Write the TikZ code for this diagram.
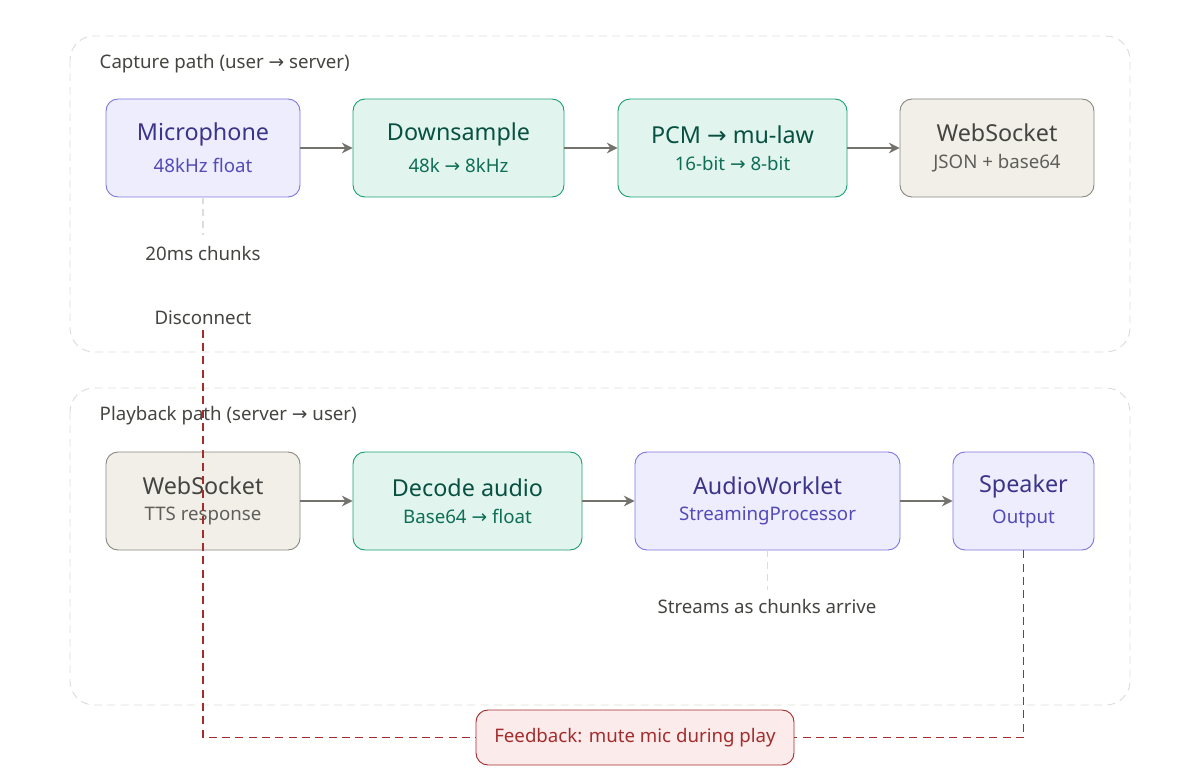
\documentclass[tikz,border=0pt]{standalone}
\usepackage{fontspec}
\setmainfont{Noto Sans}
\newfontfamily\arrowfont{DejaVu Sans}
\newcommand{\toarrow}{{\arrowfont →}}
\usetikzlibrary{arrows.meta}
\definecolor{purpfill}{HTML}{EEEDFE}
\definecolor{purpline}{HTML}{7F77DD}
\definecolor{purptxt}{HTML}{3C3489}
\definecolor{purpsub}{HTML}{534AB7}
\definecolor{grnfill}{HTML}{E1F5EE}
\definecolor{grnline}{HTML}{1D9E75}
\definecolor{grntxt}{HTML}{085041}
\definecolor{grnsub}{HTML}{0F6E56}
\definecolor{gryfill}{HTML}{F1EFE8}
\definecolor{gryline}{HTML}{8A8880}
\definecolor{grytxt}{HTML}{444441}
\definecolor{grysub}{HTML}{5F5E5A}
\definecolor{redfill}{HTML}{FCEBEB}
\definecolor{redline}{HTML}{A32D2D}
\definecolor{arrowgray}{HTML}{73726C}
\definecolor{groupline}{HTML}{DDDCD8}
\tikzset{
  stage/.style={rounded corners=9pt, draw, line width=0.7pt, align=center, inner sep=0pt},
  purp/.style={stage, fill=purpfill, draw=purpline},
  grn/.style={stage, fill=grnfill, draw=grnline},
  gry/.style={stage, fill=gryfill, draw=gryline},
  group/.style={draw=groupline, rounded corners=18pt, dash pattern=on 6pt off 4pt, line width=0.7pt},
  flow/.style={draw=arrowgray, line width=1.4pt, -{Stealth[length=8pt,width=8pt]}},
  note/.style={draw=groupline, dash pattern=on 5pt off 4pt, line width=0.8pt},
  fb/.style={draw=redline, dash pattern=on 6pt off 4pt, line width=1.2pt},
  lbl/.style={text=grytxt, font=\fontsize{14}{17}\selectfont}
}
\newcommand{\stagetext}[4]{{\color{#1}\fontsize{17.5}{21}\selectfont #3}\\[8pt]{\color{#2}\fontsize{14}{17}\selectfont #4}}
\begin{document}
\begin{tikzpicture}[x=0.75pt, y=-0.75pt]
    \useasboundingbox (0,0) rectangle (1200,784);

    % Groups
    \draw[group] (70,36) rectangle (1130,352);
    \draw[group] (70,388) rectangle (1130,705);
    \node[lbl, anchor=west] (capture) at (95,64) {Capture path (user \toarrow{} server)};
    \node[lbl, anchor=west] (playback) at (95,416) {Playback path (server \toarrow{} user)};

    % Capture row
    \node[purp, minimum width=194pt*0.75, minimum height=98pt*0.75] (mic) at (203,148)
        {\stagetext{purptxt}{purpsub}{Microphone}{48kHz float}};
    \node[grn, minimum width=211pt*0.75, minimum height=98pt*0.75] (down) at (458.5,148)
        {\stagetext{grntxt}{grnsub}{Downsample}{48k \toarrow{} 8kHz}};
    \node[grn, minimum width=229pt*0.75, minimum height=98pt*0.75] (pcm) at (732.5,148)
        {\stagetext{grntxt}{grnsub}{PCM \toarrow{} mu-law}{16-bit \toarrow{} 8-bit}};
    \node[gry, minimum width=194pt*0.75, minimum height=98pt*0.75] (wsout) at (997,148)
        {\stagetext{grytxt}{grysub}{WebSocket}{JSON + base64}};

    % Playback row
    \node[gry, minimum width=194pt*0.75, minimum height=98pt*0.75] (wsin) at (203,501)
        {\stagetext{grytxt}{grysub}{WebSocket}{TTS response}};
    \node[grn, minimum width=229pt*0.75, minimum height=98pt*0.75] (decode) at (467.5,501)
        {\stagetext{grntxt}{grnsub}{Decode audio}{Base64 \toarrow{} float}};
    \node[purp, minimum width=265pt*0.75, minimum height=98pt*0.75] (worklet) at (767.5,501)
        {\stagetext{purptxt}{purpsub}{AudioWorklet}{StreamingProcessor}};
    \node[purp, minimum width=141pt*0.75, minimum height=98pt*0.75] (speaker) at (1023.5,501)
        {\stagetext{purptxt}{purpsub}{Speaker}{Output}};

    % Notes
    \node[lbl] (chunks) at (203,254) {20ms chunks};
    \node[lbl] (disc) at (203,318) {Disconnect};
    \node[lbl] (streams) at (767,606) {Streams as chunks arrive};
    \node[rounded corners=9pt, draw=redline, fill=redfill, line width=0.7pt, text=redline,
          minimum width=318pt*0.75, minimum height=55pt*0.75, inner sep=0pt,
          font=\fontsize{14}{17}\selectfont] (feedback) at (635,737.5) {Feedback: mute mic during play};

    % Flow arrows
    \draw[flow] (mic) -- (down);
    \draw[flow] (down) -- (pcm);
    \draw[flow] (pcm) -- (wsout);
    \draw[flow] (wsin) -- (decode);
    \draw[flow] (decode) -- (worklet);
    \draw[flow] (worklet) -- (speaker);

    % Annotation links
    \draw[note] (mic.south) -- ++(0,38);
    \draw[note] (worklet.south) -- ++(0,40);
    \draw[fb] (disc.south) |- (feedback.west);
    \draw[fb] (speaker.south) |- (feedback.east);
\end{tikzpicture}
\end{document}
